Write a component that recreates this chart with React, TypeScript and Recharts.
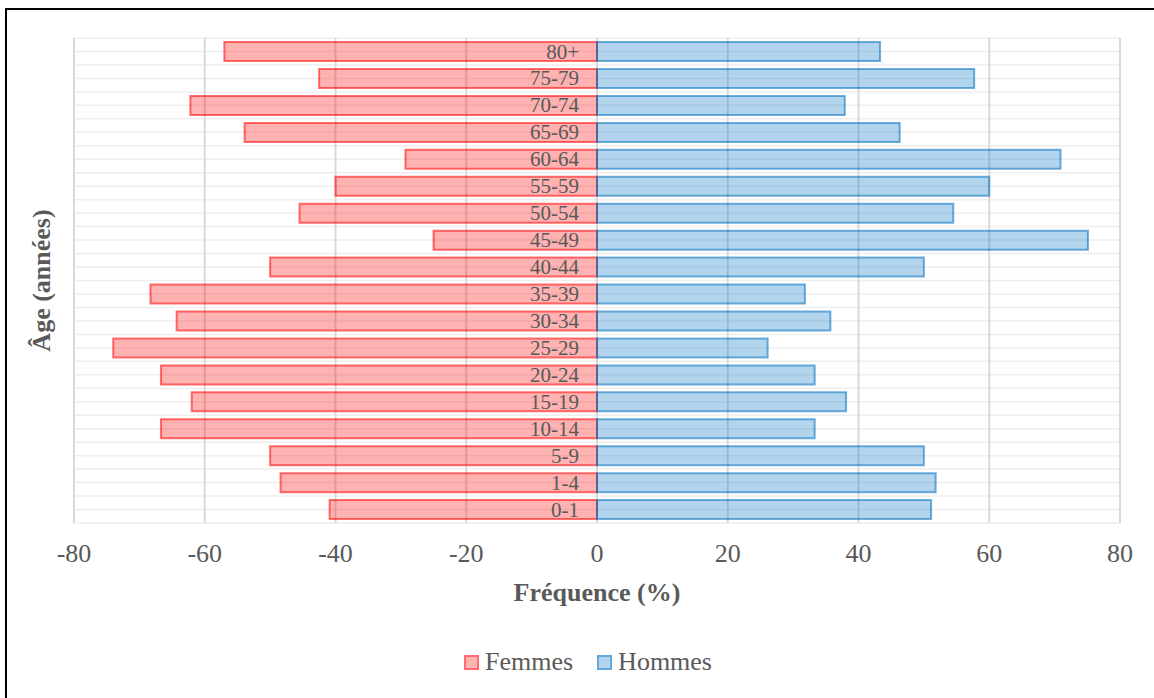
import { BarChart, Bar, XAxis, YAxis, CartesianGrid, LabelList, Label } from 'recharts'

// age groups listed from the top of the pyramid down
const ages = ['80+', '75-79', '70-74', '65-69', '60-64', '55-59', '50-54', '45-49', '40-44', '35-39', '30-34', '25-29', '20-24', '15-19', '10-14', '5-9', '1-4', '0-1']
const femmes = [-57, -42.5, -62.2, -53.9, -29.3, -40, -45.5, -25, -50, -68.3, -64.3, -74, -66.7, -62, -66.7, -50, -48.4, -40.9]
const hommes = [43.3, 57.7, 37.9, 46.3, 70.9, 60, 54.5, 75.1, 50, 31.8, 35.7, 26.1, 33.3, 38.1, 33.3, 50, 51.8, 51.1]
const xTicks = [-80, -60, -40, -20, 0, 20, 40, 60, 80]

const data = ages.map((age, i) => ({ age, femmes: femmes[i], hommes: hommes[i] }))

const FONT = '"Liberation Serif", "Times New Roman", serif'
const TEXT = '#595959'

// one line at every band edge and one through every band centre
const halfBandLines = ({ offset }: any) => {
  const step = offset.height / (ages.length * 2)
  return Array.from({ length: ages.length * 2 + 1 }, (_, i) => offset.top + i * step)
}

function AgeLabel(props: any) {
  const vb = props.viewBox ?? props
  const right = Math.max(vb.x, vb.x + vb.width)
  const top = Math.min(vb.y, vb.y + vb.height)
  return (
    <text
      x={right - 18}
      y={top + Math.abs(vb.height) / 2}
      textAnchor='end'
      dominantBaseline='central'
      fontFamily={FONT}
      fontSize={21}
      fill={TEXT}
    >
      {props.value}
    </text>
  )
}

function AgeTitle({ viewBox }: any) {
  const cx = viewBox.x + 8
  const cy = viewBox.y + viewBox.height / 2
  return (
    <text
      x={cx}
      y={cy}
      transform={`rotate(-90 ${cx} ${cy})`}
      textAnchor='middle'
      dominantBaseline='central'
      fontFamily={FONT}
      fontSize={26}
      fontWeight='bold'
      fill={TEXT}
    >
      Âge (années)
    </text>
  )
}

function LegendSwatch({ fill, stroke }: { fill: string; stroke: string }) {
  return <span style={{ display: 'inline-block', width: 11, height: 11, background: fill, border: `2px solid ${stroke}`, marginRight: 6 }} />
}

export default function App() {
  return (
    <div style={{ position: 'absolute', left: 0, top: 0, width: 1154, height: 698, background: '#fff' }}>
      <div style={{ position: 'absolute', left: 5, top: 8, width: 1147, height: 688, borderLeft: '2px solid #000', borderTop: '2px solid #000' }} />
      <BarChart
        width={1154}
        height={698}
        data={data}
        layout='vertical'
        stackOffset='sign'
        barCategoryGap='15%'
        margin={{ top: 38, right: 34, bottom: 118, left: 33 }}
        style={{ position: 'absolute', left: 0, top: 0 }}
      >
        <CartesianGrid vertical={false} horizontalCoordinatesGenerator={halfBandLines} stroke='#EEEEEE' strokeWidth={1.5} />
        <CartesianGrid horizontal={false} stroke='#D9D9D9' strokeWidth={2} />
        <XAxis
          type='number'
          domain={[-80, 80]}
          ticks={xTicks}
          tickLine={false}
          axisLine={false}
          tickMargin={15}
          height={57}
          tick={{ fontFamily: FONT, fontSize: 26, fill: TEXT }}
        >
          <Label value='Fréquence (%)' position='bottom' offset={3} style={{ fontFamily: FONT, fontSize: 26, fontWeight: 'bold', fill: TEXT }} />
        </XAxis>
        <YAxis type='category' dataKey='age' width={41} tick={false} tickLine={false} axisLine={false}>
          <Label content={<AgeTitle />} />
        </YAxis>
        <Bar dataKey='femmes' stackId='pyramide' fill='#FF0000' fillOpacity={0.3} stroke='#FF0000' strokeOpacity={0.55} strokeWidth={2} isAnimationActive={false}>
          <LabelList dataKey='age' content={<AgeLabel />} />
        </Bar>
        <Bar dataKey='hommes' stackId='pyramide' fill='#0070C0' fillOpacity={0.3} stroke='#0070C0' strokeOpacity={0.55} strokeWidth={2} isAnimationActive={false} />
      </BarChart>
      <div style={{ position: 'absolute', left: 464, top: 649, display: 'flex', alignItems: 'center', fontFamily: FONT, fontSize: 26, lineHeight: 1, color: TEXT }}>
        <LegendSwatch fill='#FFB3B3' stroke='#FF6B6E' />
        <span style={{ marginRight: 24 }}>Femmes</span>
        <LegendSwatch fill='#B3D4EC' stroke='#66A9D9' />
        <span>Hommes</span>
      </div>
    </div>
  )
}
